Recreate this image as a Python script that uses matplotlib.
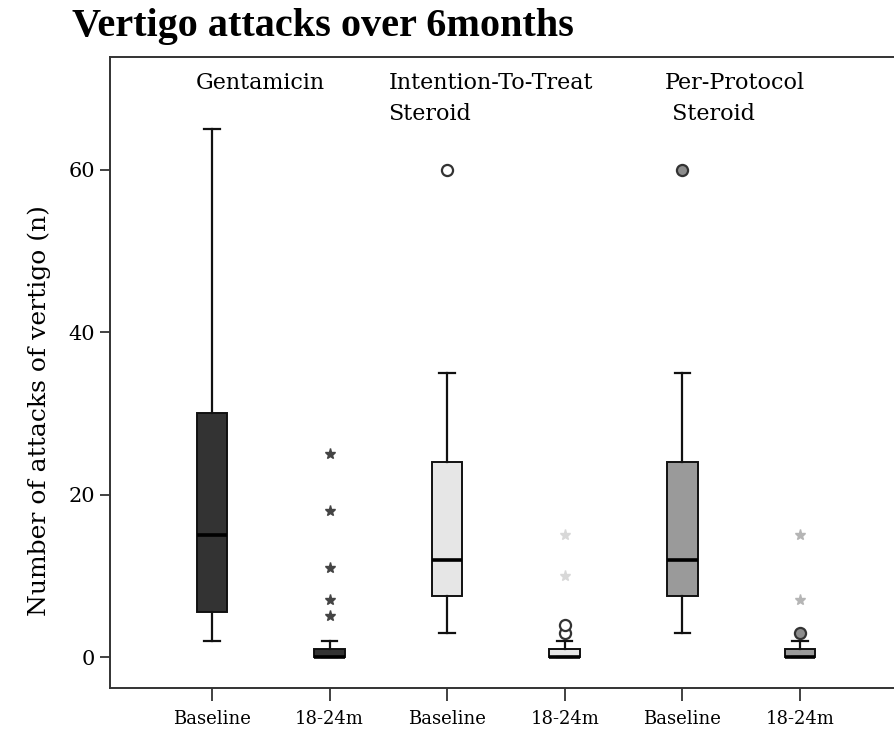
import matplotlib
matplotlib.use('Agg')
from matplotlib import pyplot as plt

# group / tick labels
tick_labels = ["Baseline", "18-24m", "Baseline", "18-24m", "Baseline", "18-24m"]
group_labels = ["Gentamicin", "Intention-To-Treat\nSteroid", "Per-Protocol\n Steroid"]

# box summaries
whisker_lo = [2, 0, 3, 0, 3, 0]
q1 = [5.5, 0, 7.5, 0, 7.5, 0]
medians = [15, 0, 12, 0, 12, 0]
q3 = [30, 1, 24, 1, 24, 1]
whisker_hi = [65, 2, 35, 2, 35, 2]

# outliers (circles) and extremes (stars) per box
outliers = [[], [], [60], [3, 4], [60], [3]]
extremes = [[], [25, 18, 11, 7, 5], [], [15, 10], [], [15, 7]]

box_colors = ["#333333", "#333333", "#e6e6e6", "#e6e6e6", "#9a9a9a", "#9a9a9a"]
circle_face = ["white", "white", "white", "white", "#8c8c8c", "#8c8c8c"]
star_colors = ["#444444", "#444444", "#d8d8d8", "#d8d8d8", "#b5b5b5", "#b5b5b5"]

serif = "DejaVu Serif"
plt.rcParams['font.family'] = serif

fig = plt.figure(figsize=(8.94, 7.31), dpi=100)
ax = fig.add_axes([0.123, 0.0588, 0.877, 0.8632])

stats = []
for i in range(6):
    stats.append({"whislo": whisker_lo[i], "q1": q1[i], "med": medians[i],
                  "q3": q3[i], "whishi": whisker_hi[i], "fliers": []})

positions = list(range(1, 7))
bp = ax.bxp(stats, positions=positions, widths=0.26, patch_artist=True,
            showfliers=False,
            boxprops=dict(edgecolor="#111111", linewidth=1.4),
            medianprops=dict(color="black", linewidth=2.6),
            whiskerprops=dict(color="#111111", linewidth=1.6),
            capprops=dict(color="#111111", linewidth=1.6),
            capwidths=0.13)
for patch, c in zip(bp["boxes"], box_colors):
    patch.set_facecolor(c)

for i, p in enumerate(positions):
    if outliers[i]:
        ax.plot([p] * len(outliers[i]), outliers[i], linestyle="none",
                marker="o", markersize=8, markerfacecolor=circle_face[i],
                markeredgecolor="#333333", markeredgewidth=1.6)
    if extremes[i]:
        ax.plot([p] * len(extremes[i]), extremes[i], linestyle="none",
                marker="*", markersize=8, color=star_colors[i])

ax.set_xlim(0.133, 6.80)
ax.set_ylim(-3.82, 73.9)
ax.set_yticks([0, 20, 40, 60])
ax.set_xticks(positions)
ax.set_xticklabels(tick_labels, fontsize=13)
ax.tick_params(axis="y", labelsize=15, length=7, width=1.3, color="#333333")
ax.tick_params(axis="x", length=9, width=1.3, color="#333333", pad=7)
ax.set_ylabel("Number of attacks of vertigo (n)", fontsize=18)
ax.yaxis.set_label_coords(-0.075, 0.44)

for side in ["left", "bottom", "top"]:
    ax.spines[side].set_linewidth(1.4)
    ax.spines[side].set_color("#333333")
ax.spines["right"].set_visible(False)

# group labels inside the frame
ax.text(0.86, 72.0, group_labels[0], fontsize=16, va="top", ha="left")
ax.text(2.50, 72.0, group_labels[1], fontsize=16, va="top", ha="left",
        linespacing=1.5)
ax.text(4.85, 72.0, group_labels[2], fontsize=16, va="top", ha="left",
        linespacing=1.5)

fig.text(0.08, 0.964, "Vertigo attacks over 6months", fontsize=29,
         fontweight="bold", family="Liberation Serif", va="center", ha="left")

plt.savefig("out.png", dpi=100)
plt.close()
